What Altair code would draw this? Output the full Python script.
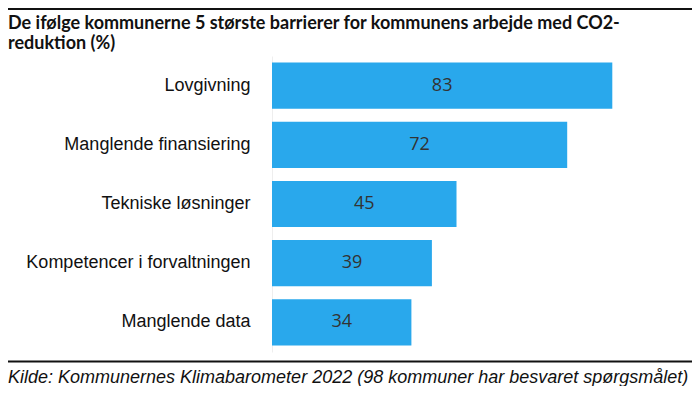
import altair as alt
import pandas as pd

categories = ["Lovgivning", "Manglende finansiering", "Tekniske løsninger",
              "Kompetencer i forvaltningen", "Manglende data"]
values = [83, 72, 45, 39, 34]
title_lines = ["De ifølge kommunerne 5 største barrierer for kommunens arbejde med CO2-",
               "reduktion (%)"]
caption = "Kilde: Kommunernes Klimabarometer 2022 (98 kommuner har besvaret spørgsmålet)"

df = pd.DataFrame({"kategori": categories, "pct": values})
one = pd.DataFrame({"k": [0]})

y_enc = alt.Y("kategori:N", sort=categories, title=None,
              scale=alt.Scale(paddingInner=0.22, paddingOuter=0.11),
              axis=alt.Axis(labelFont="Liberation Sans", labelFontSize=18,
                            labelColor="#111", labelPadding=22, ticks=False,
                            domainColor="#eeeeee", domainWidth=1, labelLimit=300))
x_enc = alt.X("pct:Q", title=None, axis=None, scale=alt.Scale(domain=[0, 100]))

bars = alt.Chart(df).mark_bar(color="#29a8ec").encode(x=x_enc, y=y_enc)
labels = alt.Chart(df).transform_calculate(mid="datum.pct / 2").mark_text(
    font="Open Sans", fontSize=18, color="#333333", baseline="middle", align="center"
).encode(x=alt.X("mid:Q"), y=alt.Y("kategori:N", sort=categories), text="pct:Q")

top_rule = alt.Chart(one).mark_rule(color="#111", strokeWidth=2).encode(
    x=alt.value(-264), x2=alt.value(420), y=alt.value(-47))
bottom_rule = alt.Chart(one).mark_rule(color="#111", strokeWidth=2).encode(
    x=alt.value(-264), x2=alt.value(420), y=alt.value(305.5))
title1 = alt.Chart(one).mark_text(
    text=title_lines[0], font="Lato", fontWeight="bold", fontSize=18,
    color="#111", align="left", baseline="alphabetic"
).encode(x=alt.value(-264), y=alt.value(-27))
title2 = alt.Chart(one).mark_text(
    text=title_lines[1], font="Lato", fontWeight="bold", fontSize=18,
    color="#111", align="left", baseline="alphabetic"
).encode(x=alt.value(-264), y=alt.value(-7))
cap = alt.Chart(one).mark_text(
    text=caption, font="Liberation Sans", fontStyle="italic", fontSize=18,
    color="#111", align="left", baseline="alphabetic"
).encode(x=alt.value(-264), y=alt.value(327))

chart = alt.layer(bars, labels, top_rule, bottom_rule, title1, title2, cap).properties(
    width=410, height=296,
    autosize=alt.AutoSizeParams(type="none"),
    padding={"left": 264, "top": 48, "right": 10, "bottom": 34},
).configure_view(stroke=None)

chart.save("out.html", embed_options={"renderer": "svg", "actions": False})
